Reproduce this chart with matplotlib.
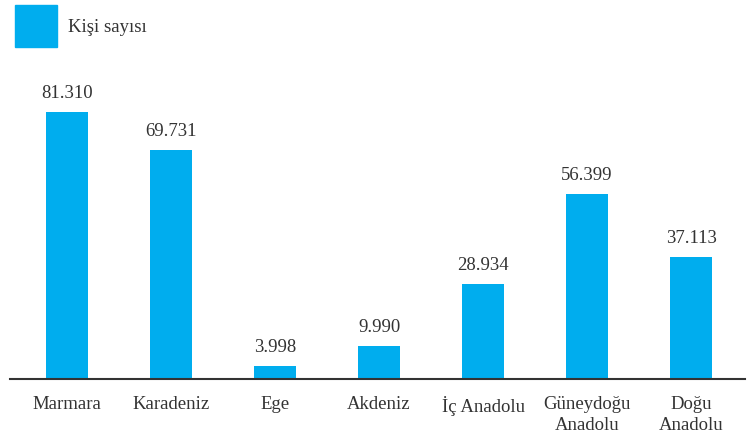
import matplotlib.pyplot as plt

regions = ["Marmara", "Karadeniz", "Ege", "Akdeniz", "İç Anadolu", "Güneydoğu\nAnadolu", "Doğu\nAnadolu"]
values = [81310, 69731, 3998, 9990, 28934, 56399, 37113]
labels = ["81.310", "69.731", "3.998", "9.990", "28.934", "56.399", "37.113"]
series_name = "Kişi sayısı"

blue = "#00adee"
dark = "#333333"
plt.rcParams['font.family'] = ['Liberation Serif', 'DejaVu Serif']

fig = plt.figure(figsize=(7.51, 4.42), dpi=100)
ax = fig.add_axes([10 / 751, 63 / 442, 735 / 751, 319 / 442])

x = list(range(len(regions)))
ax.bar(x, values, width=0.404, color=blue)
for xi, v, lab in zip(x, values, labels):
    ax.annotate(lab, (xi, v), xytext=(0, 7), textcoords="offset points",
                ha="center", va="bottom", fontsize=13.5, color=dark)

ax.set_xlim(-0.548, 6.519)
ax.set_ylim(0, 97140)
ax.set_xticks(x)
ax.set_xticklabels(regions, fontsize=13.5, color=dark, linespacing=1.3)
ax.tick_params(axis="x", length=0, pad=12)
ax.set_yticks([])
for s in ["top", "right", "left"]:
    ax.spines[s].set_visible(False)
ax.spines["bottom"].set_color(dark)
ax.spines["bottom"].set_linewidth(1.5)

# legend
fig.patches.append(plt.Rectangle((15 / 751, 1 - 47 / 442), 42 / 751, 42 / 442,
                                 transform=fig.transFigure, color=blue))
fig.text(68 / 751, 1 - 27 / 442, series_name, fontsize=13.5, color=dark, va="center")

fig.savefig("out.png", dpi=100)
